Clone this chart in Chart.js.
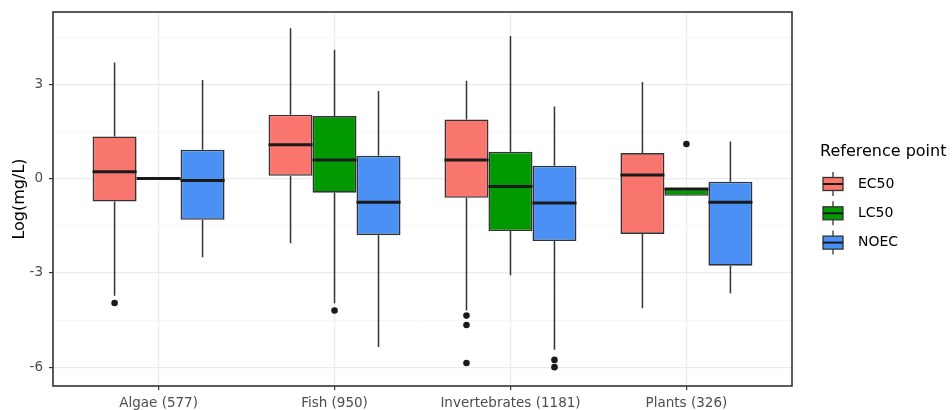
<!DOCTYPE html>
<html>
<head>
<meta charset="utf-8">
<script src="https://cdn.jsdelivr.net/npm/chart.js@4.4.1/dist/chart.umd.min.js"></script>
<style>
  html, body { margin: 0; padding: 0; background: #fff; }
</style>
</head>
<body>
<canvas id="box" width="952" height="410"></canvas>
<script>
const categories = ['Algae (577)', 'Fish (950)', 'Invertebrates (1181)', 'Plants (326)'];
const seriesNames = ['EC50', 'LC50', 'NOEC'];
const seriesColors = ['#f8766d', '#009a00', '#4a90f5'];

// [min, q1, median, q3, max] per category
const ec50 = [
  [-3.73, -0.73, 0.22, 1.34, 3.69],
  [-2.06, 0.09, 1.08, 2.03, 4.78],
  [-4.20, -0.61, 0.59, 1.88, 3.11],
  [-4.13, -1.76, 0.11, 0.81, 3.07]
];
const lc50 = [
  [0, 0, 0, 0, 0],
  [-3.97, -0.45, 0.59, 1.99, 4.10],
  [-3.08, -1.67, -0.25, 0.85, 4.54],
  [-0.55, -0.55, -0.33, -0.33, -0.33]
];
const noec = [
  [-2.50, -1.31, -0.06, 0.92, 3.14],
  [-5.36, -1.80, -0.75, 0.73, 2.79],
  [-5.45, -1.99, -0.78, 0.41, 2.29],
  [-3.65, -2.77, -0.75, -0.10, 1.18]
];

// outliers per category
const ec50Out = [[-3.96], [], [-4.36, -4.66, -5.87], []];
const lc50Out = [[], [-4.20], [], [1.10]];
const noecOut = [[], [], [-5.77, -6.0], []];

const yTicks = [-6, -3, 0, 3];

const stats = [ec50, lc50, noec];
const outs = [ec50Out, lc50Out, noecOut];
const dodge = 0.25; // 0.75 category width split in 3

const datasets = [];
stats.forEach((s, i) => {
  const off = (i - 1) * dodge;
  datasets.push({
    type: 'bar',
    label: seriesNames[i],
    data: s.map((v, j) => ({ x: j + 1, y: [v[1], v[3]] })),
    backgroundColor: seriesColors[i],
    borderColor: '#333333',
    borderWidth: 1.6,
    borderSkipped: false,
    categoryPercentage: 0.75,
    barPercentage: 1,
    order: 2
  });
  const wh = [];
  s.forEach((v, j) => {
    const x = j + 1 + off;
    wh.push({ x, y: v[4] }, { x, y: v[3] }, { x, y: null }, { x, y: v[1] }, { x, y: v[0] }, { x, y: null });
  });
  datasets.push({
    type: 'line',
    data: wh,
    borderColor: '#333333',
    borderWidth: 1.5,
    pointRadius: 0,
    spanGaps: false,
    order: 3
  });
  datasets.push({
    type: 'scatter',
    data: s.map((v, j) => ({ x: j + 1 + off, y: v[2] })),
    pointStyle: 'line',
    pointRadius: 22,
    pointBorderColor: '#1a1a1a',
    pointBorderWidth: 3,
    order: 1
  });
  const o = [];
  outs[i].forEach((arr, j) => arr.forEach(y => o.push({ x: j + 1 + off, y })));
  datasets.push({
    type: 'scatter',
    data: o,
    pointStyle: 'circle',
    pointRadius: 3.3,
    pointBackgroundColor: '#1a1a1a',
    pointBorderWidth: 0,
    order: 0
  });
});

const panelBorder = {
  id: 'panelBorder',
  afterDraw(chart) {
    const { ctx, chartArea: a } = chart;
    ctx.save();
    ctx.strokeStyle = '#333333';
    ctx.lineWidth = 1.6;
    ctx.strokeRect(a.left, a.top, a.right - a.left, a.bottom - a.top);
    ctx.restore();
  }
};

const boxLegend = {
  id: 'boxLegend',
  afterDraw(chart) {
    const ctx = chart.ctx;
    ctx.save();
    ctx.fillStyle = '#000';
    ctx.textBaseline = 'middle';
    ctx.font = '16px "DejaVu Sans"';
    ctx.fillText('Reference point', 820, 152);
    ctx.font = '14px "DejaVu Sans"';
    seriesNames.forEach((name, i) => {
      const cy = 184 + i * 29.3;
      const cx = 833;
      ctx.strokeStyle = '#333333';
      ctx.lineWidth = 1.3;
      ctx.beginPath();
      ctx.moveTo(cx, cy - 12);
      ctx.lineTo(cx, cy + 12);
      ctx.stroke();
      ctx.fillStyle = seriesColors[i];
      ctx.fillRect(cx - 10, cy - 6.5, 20, 13);
      ctx.strokeRect(cx - 10, cy - 6.5, 20, 13);
      ctx.lineWidth = 2;
      ctx.strokeStyle = '#1a1a1a';
      ctx.beginPath();
      ctx.moveTo(cx - 10, cy);
      ctx.lineTo(cx + 10, cy);
      ctx.stroke();
      ctx.fillStyle = '#000';
      ctx.fillText(name, 858, cy);
    });
    ctx.restore();
  }
};

const font = { family: 'DejaVu Sans', size: 13.5 };
const isMajor = c => c.tick && yTicks.includes(c.tick.value);

new Chart(document.getElementById('box'), {
  type: 'bar',
  data: { datasets },
  options: {
    responsive: false,
    devicePixelRatio: 1,
    animation: false,
    events: [],
    layout: { autoPadding: false, padding: { top: 12, right: 160, left: 0, bottom: 0 } },
    plugins: { legend: { display: false }, tooltip: { enabled: false } },
    scales: {
      x: {
        type: 'linear',
        min: 0.4,
        max: 4.6,
        offset: false,
        ticks: {
          stepSize: 1,
          includeBounds: false,
          autoSkip: false,
          maxRotation: 0,
          padding: 5,
          color: '#4d4d4d',
          font,
          callback: v => categories[v - 1] ?? ''
        },
        grid: { offset: false, color: '#ebebeb', lineWidth: 1.2, tickColor: '#333333', tickLength: 4 },
        border: { display: false },
        afterFit: s => {
          s.height = 24;
          s.paddingLeft = 0;
          s.paddingRight = 0;
        }
      },
      y: {
        min: -6.6,
        max: 5.3,
        ticks: {
          stepSize: 1.5,
          includeBounds: false,
          autoSkip: false,
          padding: 6,
          color: '#4d4d4d',
          font,
          callback: v => yTicks.includes(v) ? String(v) : ''
        },
        grid: {
          color: c => isMajor(c) ? '#ebebeb' : '#f4f4f4',
          lineWidth: c => isMajor(c) ? 1.2 : 0.7,
          tickColor: c => isMajor(c) ? '#333333' : 'rgba(0,0,0,0)',
          tickLength: 4
        },
        border: { display: false },
        title: {
          display: true,
          text: 'Log(mg/L)',
          color: '#000',
          font: { family: 'DejaVu Sans', size: 16 },
          padding: { top: 10, bottom: 0 }
        },
        afterFit: s => {
          s.width = 53;
          s.paddingTop = 0;
          s.paddingBottom = 0;
        }
      }
    }
  },
  plugins: [panelBorder, boxLegend]
});
</script>
</body>
</html>
